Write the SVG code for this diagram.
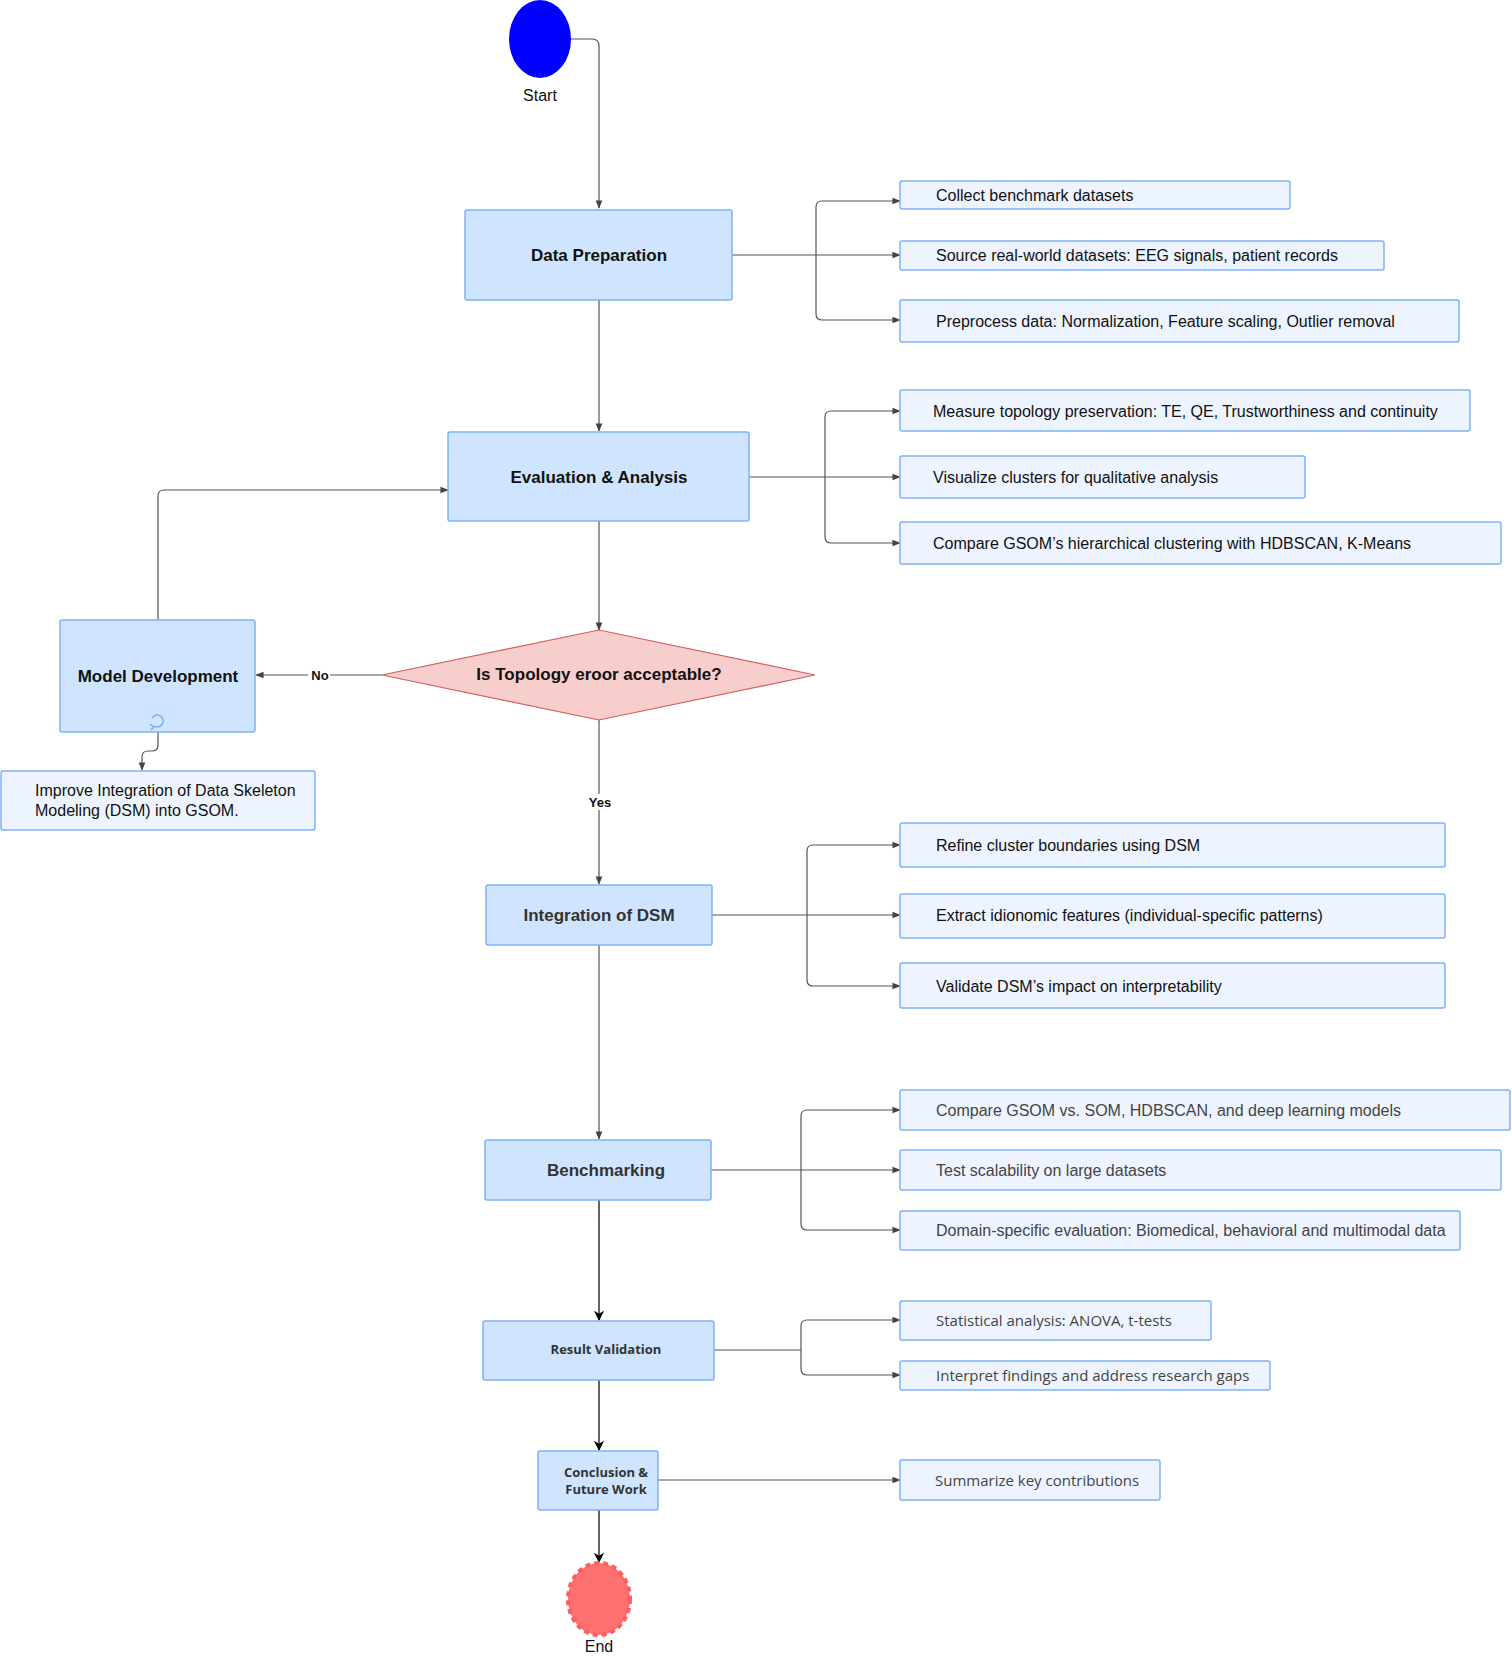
<svg xmlns="http://www.w3.org/2000/svg" width="1512" height="1658" viewBox="0 0 1512 1658">
<defs>
<marker id="ar" viewBox="0 0 10 10" refX="9" refY="5" markerWidth="7" markerHeight="7" orient="auto-start-reverse"><path d="M0,1 L10,5 L0,9 z" fill="#444"/></marker>
<marker id="ab" viewBox="0 0 10 10" refX="9" refY="5" markerWidth="8" markerHeight="8" orient="auto"><path d="M0,0 L10,5 L0,10 L3,5 z" fill="#000"/></marker>
<style>
.m{fill:#cfe4ff;stroke:#7fb2f3;stroke-width:1.5}
.s{fill:#edf4ff;stroke:#7fb2f3;stroke-width:1.5}
.t{font-family:"Liberation Sans",Arial,sans-serif;font-size:16px;fill:#111}
.g{fill:#444}
.b{font-family:"Liberation Sans",Arial,sans-serif;font-size:17px;font-weight:bold;fill:#111;text-anchor:middle}
.o{font-family:"Open Sans",sans-serif;font-size:13px;font-weight:bold;fill:#333;text-anchor:middle}
.c{fill:none;stroke:#555;stroke-width:1.2}
.k{fill:none;stroke:#111;stroke-width:1.3}
</style>
</defs>
<g id="connectors">
<path class="c" d="M571,39 H592 Q599,39 599,46 V208" marker-end="url(#ar)"/>
<path class="c" d="M732,255 H900" marker-end="url(#ar)"/>
<path class="c" d="M816,255 V207 Q816,201 822,201 H900" marker-end="url(#ar)"/>
<path class="c" d="M816,255 V314 Q816,320 822,320 H900" marker-end="url(#ar)"/>
<path class="c" d="M599,300 V431" marker-end="url(#ar)"/>
<path class="c" d="M749,477 H900" marker-end="url(#ar)"/>
<path class="c" d="M825,477 V417 Q825,411 831,411 H900" marker-end="url(#ar)"/>
<path class="c" d="M825,477 V537 Q825,543 831,543 H900" marker-end="url(#ar)"/>
<path class="c" d="M599,521 V630" marker-end="url(#ar)"/>
<path class="c" d="M382,675 H256" marker-end="url(#ar)"/>
<path class="c" d="M158,620 V496 Q158,490 164,490 H448" marker-end="url(#ar)"/>
<path class="c" d="M158,732 V745 Q158,751 152,751 H148 Q142,751 142,757 V770" marker-end="url(#ar)"/>
<path class="c" d="M599,720 V884" marker-end="url(#ar)"/>
<path class="c" d="M712,915 H900" marker-end="url(#ar)"/>
<path class="c" d="M807,915 V851 Q807,845 813,845 H900" marker-end="url(#ar)"/>
<path class="c" d="M807,915 V980 Q807,986 813,986 H900" marker-end="url(#ar)"/>
<path class="c" d="M599,945 V1139" marker-end="url(#ar)"/>
<path class="c" d="M711,1170 H900" marker-end="url(#ar)"/>
<path class="c" d="M801,1170 V1116 Q801,1110 807,1110 H900" marker-end="url(#ar)"/>
<path class="c" d="M801,1170 V1224 Q801,1230 807,1230 H900" marker-end="url(#ar)"/>
<path class="k" d="M599,1200 V1320" marker-end="url(#ab)"/>
<path class="c" d="M714,1350 H801" />
<path class="c" d="M801,1350 V1326 Q801,1320 807,1320 H900" marker-end="url(#ar)"/>
<path class="c" d="M801,1350 V1369 Q801,1375 807,1375 H900" marker-end="url(#ar)"/>
<path class="k" d="M599,1380 V1450" marker-end="url(#ab)"/>
<path class="c" d="M658,1480 H900" marker-end="url(#ar)"/>
<path class="k" d="M599,1510 V1562" marker-end="url(#ab)"/>
<rect x="308" y="667" width="22" height="16" fill="#fff"/>
<text x="320" y="680" class="t" style="font-size:13px;font-weight:bold" text-anchor="middle">No</text>
<rect x="584" y="794" width="32" height="16" fill="#fff"/>
<text x="600" y="807" class="t" style="font-size:13px;font-weight:bold" fill="#333" text-anchor="middle">Yes</text>
</g>
<g id="start"><ellipse cx="540" cy="39" rx="31" ry="39" fill="#0000ff"/><text x="540" y="101" class="t" text-anchor="middle">Start</text></g>
<g id="dataprep"><rect class="m" x="465" y="210" width="267" height="90" rx="2"/><text x="599" y="261" class="b">Data Preparation</text></g>
<g id="dp1"><rect class="s" x="900" y="181" width="390" height="28" rx="2"/><text x="936" y="201" class="t">Collect benchmark datasets</text></g>
<g id="dp2"><rect class="s" x="900" y="241" width="484" height="29" rx="2"/><text x="936" y="261" class="t">Source real-world datasets: EEG signals, patient records</text></g>
<g id="dp3"><rect class="s" x="900" y="300" width="559" height="42" rx="2"/><text x="936" y="327" class="t">Preprocess data: Normalization, Feature scaling, Outlier removal</text></g>
<g id="eval"><rect class="m" x="448" y="432" width="301" height="89" rx="2"/><text x="599" y="483" class="b">Evaluation &amp; Analysis</text></g>
<g id="ev1"><rect class="s" x="900" y="390" width="570" height="41" rx="2"/><text x="933" y="417" class="t">Measure topology preservation: TE, QE, Trustworthiness and continuity</text></g>
<g id="ev2"><rect class="s" x="900" y="456" width="405" height="42" rx="2"/><text x="933" y="483" class="t">Visualize clusters for qualitative analysis</text></g>
<g id="ev3"><rect class="s" x="900" y="522" width="601" height="42" rx="2"/><text x="933" y="549" class="t">Compare GSOM’s hierarchical clustering with HDBSCAN, K-Means</text></g>
<g id="decision"><polygon points="599,630 815,675 599,720 382,675" fill="#f8cecc" stroke="#d06060" stroke-width="1.2"/><text x="599" y="680" class="b">Is Topology eroor acceptable?</text></g>
<g id="modeldev"><rect class="m" x="60" y="620" width="195" height="112" rx="2"/><text x="158" y="682" class="b">Model Development</text>
<path d="M154,726 A6,6 0 1 0 152,718" fill="none" stroke="#6aa8ee" stroke-width="1.3"/><path d="M150,724 L154,727 L151,730" fill="none" stroke="#6aa8ee" stroke-width="1.2"/></g>
<g id="improve"><rect class="s" x="1" y="771" width="314" height="59" rx="2"/><text class="t"><tspan x="35" y="796">Improve Integration of Data Skeleton</tspan><tspan x="35" y="816">Modeling (DSM) into GSOM.</tspan></text></g>
<g id="integ"><rect class="m" x="486" y="885" width="226" height="60" rx="2"/><text x="599" y="921" class="b" fill="#333" style="fill:#333">Integration of DSM</text></g>
<g id="in1"><rect class="s" x="900" y="823" width="545" height="44" rx="2"/><text x="936" y="851" class="t">Refine cluster boundaries using DSM</text></g>
<g id="in2"><rect class="s" x="900" y="894" width="545" height="44" rx="2"/><text x="936" y="921" class="t">Extract idionomic features (individual-specific patterns)</text></g>
<g id="in3"><rect class="s" x="900" y="963" width="545" height="45" rx="2"/><text x="936" y="992" class="t">Validate DSM’s impact on interpretability</text></g>
<g id="bench"><rect class="m" x="485" y="1140" width="226" height="60" rx="2"/><text x="606" y="1176" class="b" style="fill:#333">Benchmarking</text></g>
<g id="bm1"><rect class="s" x="900" y="1090" width="610" height="40" rx="2"/><text x="936" y="1116" class="t g">Compare GSOM vs. SOM, HDBSCAN, and deep learning models</text></g>
<g id="bm2"><rect class="s" x="900" y="1150" width="601" height="40" rx="2"/><text x="936" y="1176" class="t g">Test scalability on large datasets</text></g>
<g id="bm3"><rect class="s" x="900" y="1211" width="560" height="39" rx="2"/><text x="936" y="1236" class="t g">Domain-specific evaluation: Biomedical, behavioral and multimodal data</text></g>
<g id="result"><rect class="m" x="483" y="1321" width="231" height="59" rx="2"/><text x="606" y="1354" class="o">Result Validation</text></g>
<g id="rv1"><rect class="s" x="900" y="1301" width="311" height="39" rx="2"/><text x="936" y="1326" class="t g" style="font-family:'Open Sans',sans-serif;font-size:15px">Statistical analysis: ANOVA, t-tests</text></g>
<g id="rv2"><rect class="s" x="900" y="1361" width="370" height="29" rx="2"/><text x="936" y="1381" class="t g" style="font-family:'Open Sans',sans-serif;font-size:15px">Interpret findings and address research gaps</text></g>
<g id="concl"><rect class="m" x="538" y="1451" width="120" height="59" rx="2"/><text class="o"><tspan x="606" y="1477">Conclusion &amp;</tspan><tspan x="606" y="1494">Future Work</tspan></text></g>
<g id="cf1"><rect class="s" x="900" y="1460" width="260" height="40" rx="2"/><text x="935" y="1486" class="t g" style="font-family:'Open Sans',sans-serif;font-size:15px">Summarize key contributions</text></g>
<g id="end"><ellipse cx="599" cy="1599" rx="31" ry="36" fill="#ff7070" stroke="#ff5c5c" stroke-width="4" stroke-dasharray="5,4"/><text x="599" y="1652" class="t" text-anchor="middle">End</text></g>
</svg>
